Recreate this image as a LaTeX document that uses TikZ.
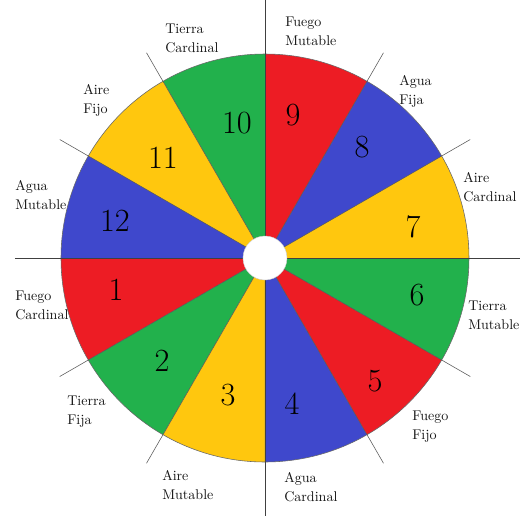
\documentclass[tikz,border=0pt]{standalone}
\definecolor{rojo}{RGB}{237,28,36}
\definecolor{verde}{RGB}{34,177,76}
\definecolor{amarillo}{RGB}{255,199,14}
\definecolor{azul}{RGB}{63,72,204}
\definecolor{texto}{RGB}{20,20,20}
\tikzset{casa/.style={font=\fontsize{23}{26}\selectfont,inner sep=0pt},
	signo/.style={font=\fontsize{10}{13.5}\selectfont,text=texto,align=left,anchor=west,inner sep=0pt},
	eje/.style={black!75,line width=0.5pt}}
\begin{document}
\begin{tikzpicture}[x=0.025cm,y=0.025cm]
	\def\R{204} \def\r{22} \def\T{237}
	\useasboundingbox (-265,-258) rectangle (256,258);
	% casas
	\foreach \n/\c in {1/rojo,2/verde,3/amarillo,4/azul,5/rojo,6/verde,7/amarillo,8/azul,9/rojo,10/verde,11/amarillo,12/azul}
		\fill[\c] (0,0)--({150+30*\n}:\R) arc[start angle={150+30*\n},end angle={180+30*\n},radius=\R]--cycle;
	\draw[gray!80!black,line width=0.4pt] (0,0) circle[radius=\R];
	\draw[eje] (-250,0)--(255,0) (0,258)--(0,-258);
	\foreach \a in {30,60,120,150,210,240,300,330}
		\draw[black!65,line width=0.4pt] (0,0)--(\a:\T);
	\fill[white] (0,0) circle[radius=\r];
	\draw[gray!40,line width=0.3pt] (0,0) circle[radius=\r];
	% numeros
	\foreach \n/\x/\y in {1/-149/-32,2/-103/-103,3/-37/-137,4/27/-146,5/110/-123,6/152/-37,7/148/31,8/97/111,9/28/143,10/-28/135,11/-102/100,12/-150/37}
		\node[casa] (c\n) at (\x,\y) {\n};
	% signos
	\node[signo] (fuegoCard) at (-250,-47) {Fuego\\Cardinal};
	\node[signo] (tierraFija) at (-198,-154) {Tierra\\Fija};
	\node[signo] (aireMut) at (-103,-227) {Aire\\Mutable};
	\node[signo] (aguaCard) at (19,-229) {Agua\\Cardinal};
	\node[signo] (fuegoFijo) at (147,-169) {Fuego\\Fijo};
	\node[signo] (tierraMut) at (203,-57) {Tierra\\Mutable};
	\node[signo] (aireCard) at (198,71) {Aire\\Cardinal};
	\node[signo] (aguaFija) at (134,167) {Agua\\Fija};
	\node[signo] (fuegoMut) at (20,227) {Fuego\\Mutable};
	\node[signo] (tierraCard) at (-100,220) {Tierra\\Cardinal};
	\node[signo] (aireFijo) at (-182,158) {Aire\\Fijo};
	\node[signo] (aguaMut) at (-250,63) {Agua\\Mutable};
\end{tikzpicture}
\end{document}
